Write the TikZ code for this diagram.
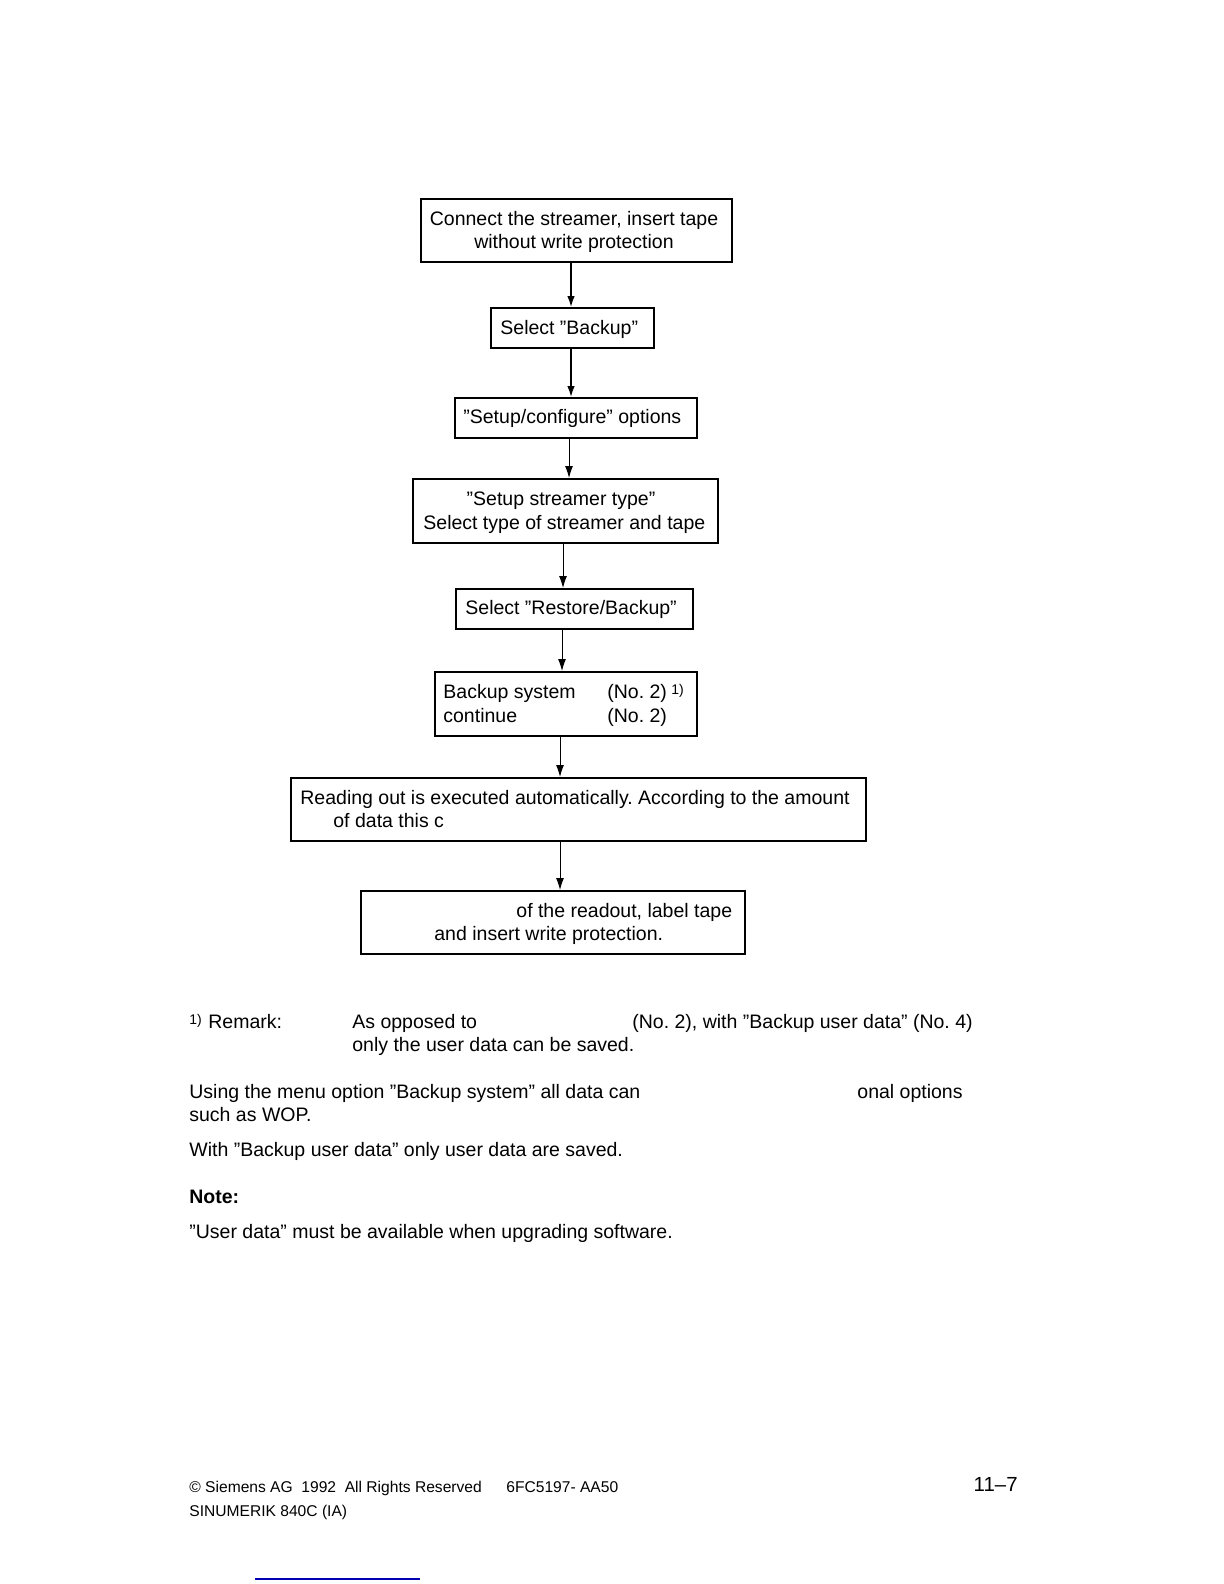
\documentclass[tikz,border=0pt]{standalone}
\usepackage{fontspec}
\setmainfont{Liberation Sans}
\usetikzlibrary{arrows.meta}
\begin{document}
\frenchspacing
\begin{tikzpicture}[x=0.5pt,y=-0.5pt,
  box/.style={draw,line width=1pt,inner sep=0pt,minimum width=#1},
  txt/.style={anchor=base west,inner sep=0pt,font=\fontsize{9.75}{12}\selectfont},
  sup/.style={anchor=base west,inner sep=0pt,font=\fontsize{7}{8}\selectfont},
  foot/.style={anchor=base west,inner sep=0pt,font=\fontsize{7.8}{10}\selectfont},
  arr/.style={line width=0.5pt,-{Latex[length=6pt,width=4pt]}},
  arrb/.style={line width=0.8pt,-{Latex[length=5.5pt,width=3.8pt]}}]
\useasboundingbox (0,0) rectangle (1224,1584);
% boxes
\node[box=155.5pt,minimum height=31.5pt] (b1) at (576.5,230.5) {};
\node[box=81.5pt,minimum height=20pt] (b2) at (572.5,328) {};
\node[box=121pt,minimum height=20pt] (b3) at (576,418) {};
\node[box=152.5pt,minimum height=32pt] (b4) at (565.5,511) {};
\node[box=118.5pt,minimum height=20pt] (b5) at (574.5,609) {};
\node[box=131pt,minimum height=32pt] (b6) at (566,704) {};
\node[box=287.5pt,minimum height=31.5pt] (b7) at (578.5,809.5) {};
\node[box=192pt,minimum height=31.5pt] (b8) at (553,922.5) {};
% arrow columns
\coordinate (c1) at (571,0);
\coordinate (c2) at (571,0);
\coordinate (c3) at (569,0);
\coordinate (c4) at (563,0);
\coordinate (c5) at (562,0);
\coordinate (c6) at (560,0);
\coordinate (c7) at (560,0);
\draw[arrb] (b1.south -| c1) -- (b2.north -| c1);
\draw[arrb] (b2.south -| c2) -- (b3.north -| c2);
\draw[arr] (b3.south -| c3) -- (b4.north -| c3);
\draw[arr] (b4.south -| c4) -- (b5.north -| c4);
\draw[arr] (b5.south -| c5) -- (b6.north -| c5);
\draw[arr] (b6.south -| c6) -- (b7.north -| c6);
\draw[arr] (b7.south -| c7) -- (b8.north -| c7);
% box texts
\node[txt,anchor=base] (t1a) at (574,225) {Connect the streamer, insert tape};
\node[txt,anchor=base] (t1b) at (574,248) {without write protection};
\node[txt] (t2) at (500,334) {Select ”Backup”};
\node[txt] (t3) at (463,423) {”Setup/configure” options};
\node[txt,anchor=base] (t4a) at (561,505) {”Setup streamer type”};
\node[txt] (t4b) at (423,529) {Select type of streamer and tape};
\node[txt] (t5) at (465,614) {Select ”Restore/Backup”};
\node[txt] (t6a) at (443,698) {Backup system};
\node[txt] (t6b) at (607,698) {(No. 2)};
\node[sup] (t6s) at (671,694) {1)};
\node[txt] (t6c) at (443,722) {continue};
\node[txt] (t6d) at (607,722) {(No. 2)};
\node[txt] (t7a) at (300,804) {Reading out is executed automatically. According to the amount};
\node[txt] (t7b) at (333,827) {of data this c};
\node[txt] (t8a) at (516,917) {of the readout, label tape};
\node[txt] (t8b) at (434,940) {and insert write protection.};
% remarks
\node[sup] (r0) at (189,1024) {1)};
\node[txt] (r1) at (208,1028) {Remark:};
\node[txt] (r2) at (352,1028) {As opposed to};
\node[txt] (r3) at (632,1028) {(No. 2), with ”Backup user data” (No. 4)};
\node[txt] (r4) at (352,1051) {only the user data can be saved.};
\node[txt] (u1) at (189,1098) {Using the menu option ”Backup system” all data can};
\node[txt] (u2) at (857,1098) {onal options};
\node[txt] (u3) at (189,1121) {such as WOP.};
\node[txt] (w1) at (189,1156) {With ”Backup user data” only user data are saved.};
\node[txt,font=\fontsize{9.75}{12}\selectfont\bfseries] (n1) at (189,1203) {Note:};
\node[txt] (n2) at (189,1238) {”User data” must be available when upgrading software.};
% footer
\node[foot] (f1) at (189,1492) {© Siemens AG\ \ 1992\ \ All Rights Reserved};
\node[foot] (f2) at (506,1492) {6FC5197- AA50};
\node[txt,anchor=base east,font=\fontsize{10.2}{13}\selectfont] (f3) at (1018,1491) {11–7};
\node[foot] (f4) at (189,1516) {SINUMERIK 840C (IA)};
\draw[blue!70!black,line width=0.6pt] (255,1579) -- (420,1579);
\end{tikzpicture}
\end{document}
